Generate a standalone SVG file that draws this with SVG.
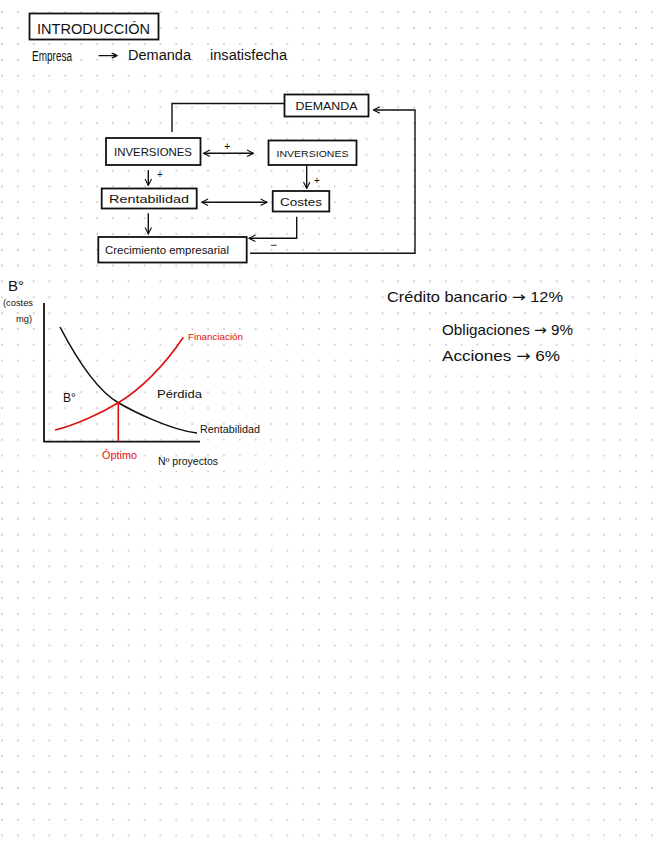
<svg xmlns="http://www.w3.org/2000/svg" width="656" height="848" viewBox="0 0 656 848">
<style>
.t{font-family:"Liberation Sans","DejaVu Sans",sans-serif;fill:#111;}
.ar{font-family:"DejaVu Sans",sans-serif;}
.box{fill:#fff;stroke:#111;stroke-width:1.8;}
.ln{fill:none;stroke:#111;stroke-width:1.4;}
.red{fill:none;stroke:#e01010;stroke-width:1.6;}
.rt{font-family:"Liberation Sans","DejaVu Sans",sans-serif;fill:#e01010;}
</style>
<defs>
<pattern id="dots" x="-5.925" y="4.385" width="15.85" height="15.83" patternUnits="userSpaceOnUse">
<circle cx="7.925" cy="7.915" r="0.9" fill="#c4c4c4"/>
</pattern>
<marker id="ah" viewBox="0 0 10 10" refX="9" refY="5" markerWidth="8" markerHeight="8" orient="auto-start-reverse" markerUnits="userSpaceOnUse">
<path d="M1,1 L9,5 L1,9" fill="none" stroke="#111" stroke-width="1.4"/>
</marker>
</defs>
<rect width="656" height="848" fill="#fff"/>
<rect width="656" height="848" fill="url(#dots)"/>

<g id="title">
<rect x="29.5" y="13.5" width="129" height="26" class="box" stroke-width="2"/>
<text x="37" y="34" class="t" font-size="14" textLength="113" lengthAdjust="spacingAndGlyphs">INTRODUCCIÓN</text>
</g>
<g id="subtitle">
<text x="32" y="61" class="t" font-size="14" textLength="40" lengthAdjust="spacingAndGlyphs">Empresa</text>
<text x="97" y="60" class="t ar" font-size="14" textLength="22" lengthAdjust="spacingAndGlyphs">→</text>
<text x="128" y="60" class="t" font-size="14" textLength="63" lengthAdjust="spacingAndGlyphs">Demanda</text>
<text x="210" y="60" class="t" font-size="14" textLength="77" lengthAdjust="spacingAndGlyphs">insatisfecha</text>
</g>

<g id="connectors">
<path class="ln" d="M284,103.5 H172 V132"/>
<path class="ln" d="M203.5,153.3 H253.5" marker-start="url(#ah)" marker-end="url(#ah)"/>
<path class="ln" d="M306.7,165 V188.5" marker-end="url(#ah)"/>
<path class="ln" d="M148.3,170 V185.5" marker-end="url(#ah)"/>
<path class="ln" d="M201.7,202.3 H267" marker-start="url(#ah)" marker-end="url(#ah)"/>
<path class="ln" d="M148.3,213.3 V234" marker-end="url(#ah)"/>
<path class="ln" d="M296.7,216.7 V238.3 H249" marker-end="url(#ah)"/>
<path class="ln" d="M250,253.3 H415 V110 H373.5" marker-end="url(#ah)"/>
<text x="224" y="150" class="t" font-size="11">+</text>
<text x="314" y="184" class="t" font-size="10">+</text>
<text x="157" y="178" class="t" font-size="10">+</text>
<text x="270" y="249" class="t" font-size="12">−</text>
</g>

<g id="demanda">
<rect x="284.5" y="94.5" width="84" height="22" class="box"/>
<text x="326.5" y="110" class="t" font-size="10.5" text-anchor="middle" textLength="62" lengthAdjust="spacingAndGlyphs">DEMANDA</text>
</g>
<g id="inversiones1">
<rect x="106" y="138" width="94.5" height="27" class="box"/>
<text x="153" y="156" class="t" font-size="10.5" text-anchor="middle" textLength="78" lengthAdjust="spacingAndGlyphs">INVERSIONES</text>
</g>
<g id="inversiones2">
<rect x="268.5" y="140.5" width="88" height="24.5" class="box"/>
<text x="312.5" y="157" class="t" font-size="9.5" text-anchor="middle" textLength="72" lengthAdjust="spacingAndGlyphs">INVERSIONES</text>
</g>
<g id="rentabilidad">
<rect x="101.7" y="188.5" width="95" height="20" class="box"/>
<text x="149" y="202.5" class="t" font-size="11" text-anchor="middle" textLength="80" lengthAdjust="spacingAndGlyphs">Rentabilidad</text>
</g>
<g id="costes">
<rect x="272.7" y="191" width="56.6" height="20.5" class="box"/>
<text x="301" y="205.5" class="t" font-size="11" text-anchor="middle" textLength="42" lengthAdjust="spacingAndGlyphs">Costes</text>
</g>
<g id="crecimiento">
<rect x="98.3" y="237" width="148.4" height="25.5" class="box"/>
<text x="167" y="254" class="t" font-size="11" text-anchor="middle" textLength="124" lengthAdjust="spacingAndGlyphs">Crecimiento empresarial</text>
</g>

<g id="graph">
<text x="8" y="291" class="t" font-size="15">B°</text>
<text x="3" y="306" class="t" font-size="9.5" textLength="30" lengthAdjust="spacingAndGlyphs">(costes</text>
<text x="16" y="322" class="t" font-size="9.5" textLength="16" lengthAdjust="spacingAndGlyphs">mg)</text>
<path d="M44,303 V441.7 H200" fill="none" stroke="#111" stroke-width="1.8"/>
<path d="M60,327 C85,375 105,395 118.3,402.7 S170,430 197,433" fill="none" stroke="#111" stroke-width="1.6"/>
<path class="red" d="M55,430 C75,425 100,414 118.3,402.7 C140,390 165,365 183.3,337.3"/>
<path class="red" d="M118.3,402.7 V441.7"/>
<text x="188" y="340" class="rt" font-size="8.5" textLength="55" lengthAdjust="spacingAndGlyphs">Financiación</text>
<text x="157" y="398" class="t" font-size="11.5" textLength="45" lengthAdjust="spacingAndGlyphs">Pérdida</text>
<text x="63" y="402" class="t" font-size="12">B°</text>
<text x="200" y="433" class="t" font-size="10" textLength="60" lengthAdjust="spacingAndGlyphs">Rentabilidad</text>
<text x="102" y="459" class="rt" font-size="10" textLength="35" lengthAdjust="spacingAndGlyphs">Óptimo</text>
<text x="158" y="465" class="t" font-size="10" textLength="60" lengthAdjust="spacingAndGlyphs">Nº proyectos</text>
</g>

<g id="financing">
<text x="387" y="302" class="t" font-size="15" textLength="176" lengthAdjust="spacingAndGlyphs">Crédito bancario <tspan class="ar">→</tspan> 12%</text>
<text x="442" y="335" class="t" font-size="15" textLength="131" lengthAdjust="spacingAndGlyphs">Obligaciones <tspan class="ar">→</tspan> 9%</text>
<text x="442" y="361" class="t" font-size="15" textLength="118" lengthAdjust="spacingAndGlyphs">Acciones <tspan class="ar">→</tspan> 6%</text>
</g>
</svg>
